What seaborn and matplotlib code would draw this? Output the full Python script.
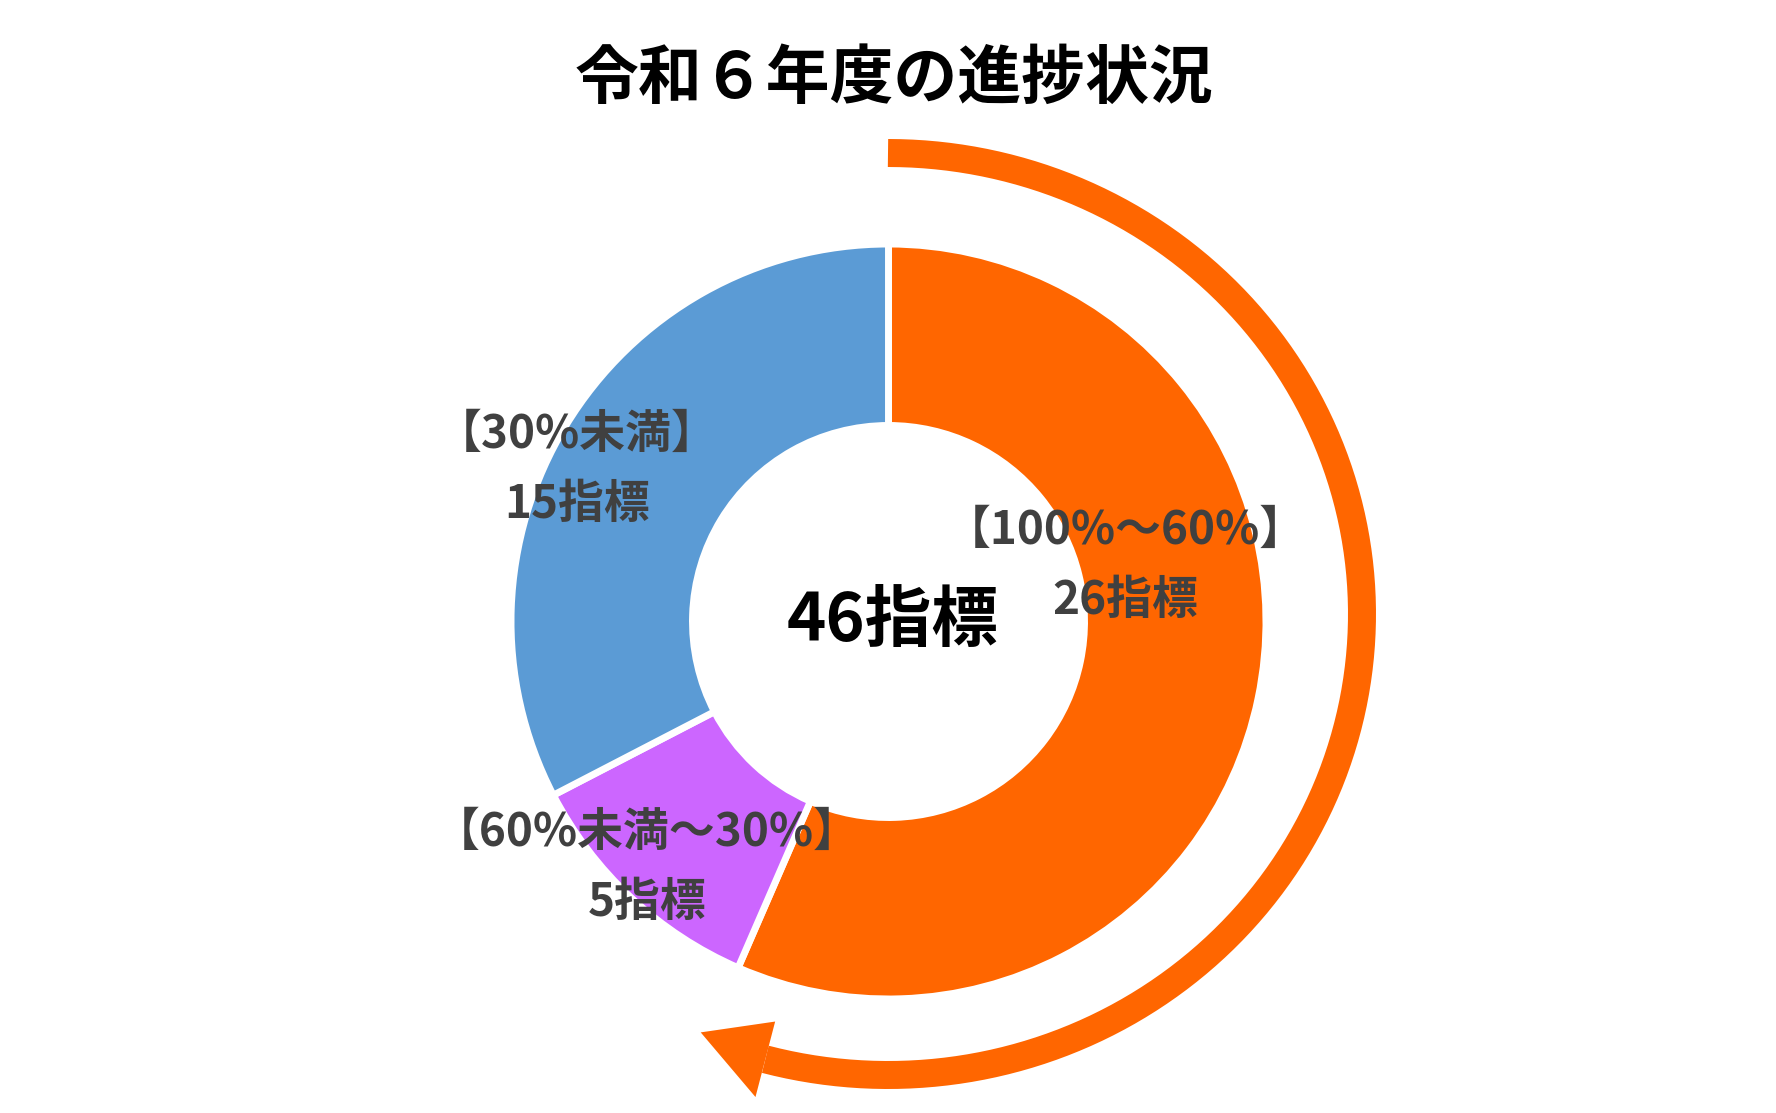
import numpy as np
import matplotlib.pyplot as plt
import seaborn as sns
from matplotlib.patches import Polygon

# data
categories = ['【100%～60%】', '【60%未満～30%】', '【30%未満】']
counts = [26, 5, 15]
unit = '指標'
title = '令和６年度の進捗状況'

# style
colors = ['#FF6600', '#CC66FF', '#5B9BD5']
label_color = '#404040'

W, H = 1776, 1113
sns.set_theme(style='white')
plt.rcParams['font.family'] = ['Noto Sans CJK JP', 'DejaVu Sans']

fig = plt.figure(figsize=(W / 100, H / 100), dpi=100)
ax = fig.add_axes([0, 0, 1, 1])

# donut (pixel units, y up)
cx, cy = 888.5, H - 621.5
r_out = 377.5
r_in = 196
ax.pie(counts, colors=colors, startangle=90, counterclock=False,
       radius=r_out, center=(cx, cy),
       wedgeprops=dict(width=r_out - r_in, edgecolor='white', linewidth=5))

# labels (moved by hand in the original, so placed per slice)
label_pos = [(1125, H - 566), (647, H - 868), (577, H - 470)]
for cat, n, (x, y) in zip(categories, counts, label_pos):
    ax.text(x, y + 35, cat, ha='center', va='center',
            fontsize=33, fontweight='bold', color=label_color)
    ax.text(x, y - 35, f'{n}{unit}', ha='center', va='center',
            fontsize=33, fontweight='bold', color=label_color)

ax.text(cx + 4, cy, f'{sum(counts)}{unit}', ha='center', va='center',
        fontsize=48, fontweight='bold', color='black')

# curved arrow round the orange part
acx, acy = 888, H - 614
arx, ary = 474, 461
t_end = -105
t = np.radians(np.linspace(90, t_end, 400))
ax.plot(acx + arx * np.cos(t), acy + ary * np.sin(t), color=colors[0],
        lw=28 * 0.72, solid_capstyle='butt')
te = np.radians(t_end)
ex, ey = acx + arx * np.cos(te), acy + ary * np.sin(te)
d = np.array([arx * np.sin(te), -ary * np.cos(te)])
d = d / np.linalg.norm(d)
nrm = np.array([-d[1], d[0]])
tilt = np.radians(-8)
dt = np.array([d[0] * np.cos(tilt) - d[1] * np.sin(tilt),
               d[0] * np.sin(tilt) + d[1] * np.cos(tilt)])
head = [(ex + 39 * nrm[0], ey + 39 * nrm[1]),
        (ex - 39 * nrm[0], ey - 39 * nrm[1]),
        (ex + 70 * dt[0], ey + 70 * dt[1])]
ax.add_patch(Polygon(head, closed=True, color=colors[0], lw=0, zorder=3))

ax.text(894, H - 79, title, ha='center', va='center',
        fontsize=46, fontweight='bold', color='black')

ax.set_xlim(0, W)
ax.set_ylim(0, H)
ax.axis('off')

plt.savefig('out.png', dpi=100)
plt.close()
